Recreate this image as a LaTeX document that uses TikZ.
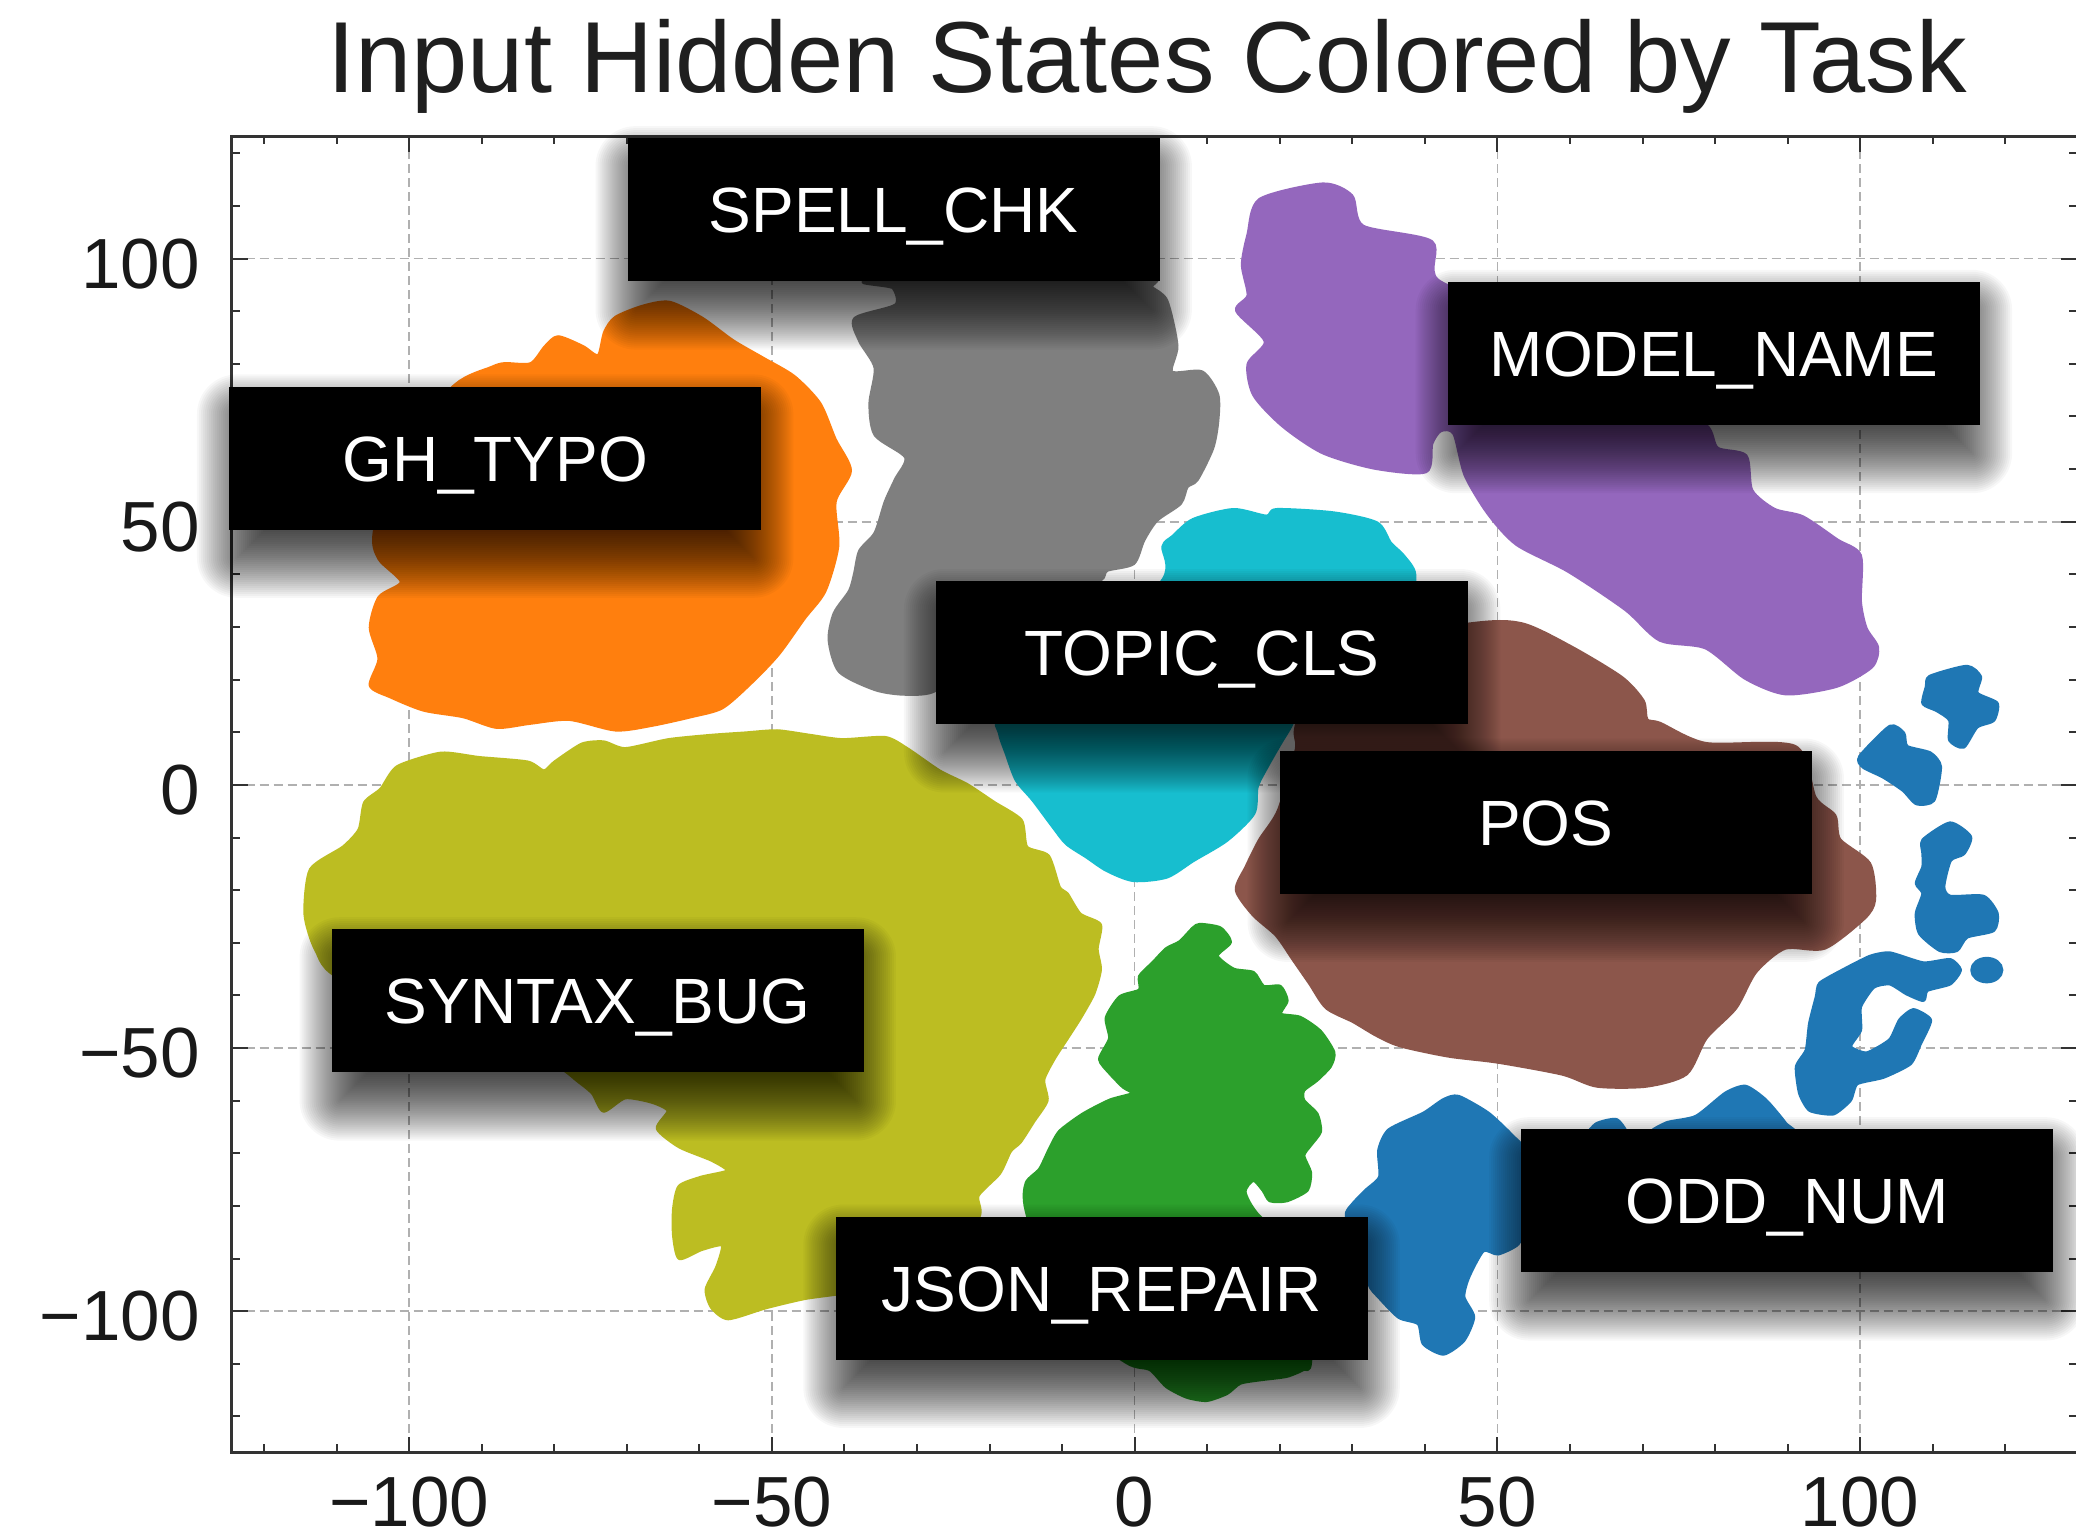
\documentclass[tikz,border=0pt]{standalone}
\usepackage{fontspec}
\setmainfont{Liberation Sans}
\pgfdeclarelayer{bgl}
\pgfdeclarelayer{shl}
\pgfsetlayers{bgl,shl,main}
\definecolor{cBlue}{HTML}{1F77B4}
\definecolor{cOrange}{HTML}{FF7F0E}
\definecolor{cGreen}{HTML}{2CA02C}
\definecolor{cPurple}{HTML}{9467BD}
\definecolor{cBrown}{HTML}{8C564B}
\definecolor{cGray}{HTML}{7F7F7F}
\definecolor{cOlive}{HTML}{BCBD22}
\definecolor{cCyan}{HTML}{17BECF}
\definecolor{axisc}{HTML}{333333}
\definecolor{gridc}{HTML}{B0B0B0}
\newcommand\boxshadow[1]{%
  \begin{pgfonlayer}{shl}
  \foreach \k in {1,...,40}{%
    \pgfmathsetmacro\e{-40+2*\k}%
    \pgfmathsetmacro\rc{max(\e,0.1)}%
    \pgfmathsetmacro\xa{8-\e}%
    \pgfmathsetmacro\ya{-28-\e}%
    \pgfmathsetmacro\xb{-8+\e}%
    \pgfmathsetmacro\yb{-28+\e}%
    \fill[black, opacity=0.03, rounded corners=\rc pt]
      ([xshift=\xa pt, yshift=\ya pt]#1.south west) rectangle
      ([xshift=\xb pt, yshift=\yb pt]#1.north east);
  }
  \end{pgfonlayer}}
\begin{document}
\begin{tikzpicture}[x=1.324pt,y=-1.324pt,
  gridline/.style={draw=gridc, line width=1.6pt, dash pattern=on 9pt off 5pt},
  frameline/.style={draw=axisc, line width=2.6pt},
  tickline/.style={draw=axisc, line width=2pt},
  blob/.style={line width=4pt, line join=round},
  ticklbl/.style={text=black!90, font=\fontsize{71}{80}\selectfont, inner sep=0pt},
  lbl/.style={fill=black, text=white, font=\fontsize{64}{70}\selectfont,
    minimum width=532pt, minimum height=143pt, inner sep=0pt,
    text height=46pt, text depth=0pt}]
\useasboundingbox (0,0) rectangle (1568,1163);
\begin{pgfonlayer}{bgl}
\fill[white] (0,0) rectangle (1568,1163);

% grid
\foreach \d in {-100,-50,0,50,100} {
  \pgfmathsetmacro\gx{857+5.48*\d}
  \pgfmathsetmacro\gy{592.8-3.975*\d}
  \draw[gridline] (\gx,103) -- (\gx,1097);
  \draw[gridline] (175,\gy) -- (1569,\gy);
}

% ---- clusters ----
% GH_TYPO (orange)
\filldraw[blob, fill=cOrange, draw=cOrange] plot[smooth cycle, tension=0.45] coordinates {
(283,402) (300,340) (344,291) (371,278) (381,275) (401,275) (412,262) (421.5,254.7)
(440,262) (452,269) (457,251) (465,240) (485.6,231.6) (505.8,228.7) (530.3,240.7)
(553.4,257.6) (576.5,271) (599.6,284.6) (618.9,304.8) (630.4,331.8) (642,355.4)
(630.4,379) (632.4,412.7) (622.7,446.4) (607.3,466.7) (588,493.6) (568.8,513.9)
(545.7,534.1) (522.6,540.8) (491.7,547.6) (464.8,551) (430,543) (400,546) (375,549)
(350,541) (320,536) (295,526) (280,517.7) (286.6,497.5) (280,474) (286.6,451.2)
(303.5,439.6) (286.6,422)};

% SPELL_CHK (gray)
\filldraw[blob, fill=cGray, draw=cGray] plot[smooth cycle, tension=0.45] coordinates {
(660,212) (674.7,217.1) (676.7,230.6) (645.9,240.7) (649.7,257.6) (661.3,277.8)
(657.4,304.8) (661.3,328.4) (684.4,345.3) (676.7,362.1) (669,379) (661.3,402.6)
(649.7,416.1) (645.9,432.9) (642,446.4) (630.4,463.3) (626.6,483.5) (634.3,507.1)
(661.3,520.6) (684.4,524) (707.5,520.6) (740,490) (800,450) (830.8,438) (835.9,430.5)
(856,425.4) (863.6,407.8) (873.6,392.7) (891.3,380.1) (896.3,367.5) (904,362.1)
(915.6,338.5) (919.4,318.3) (919.4,298) (907.8,281.2) (884.7,281.2) (888.6,261)
(880.9,227.2) (869.3,217.1) (860,208)};

% TOPIC_CLS (cyan)
\filldraw[blob, fill=cCyan, draw=cCyan] plot[smooth cycle, tension=0.45] coordinates {
(757,540) (755.3,553.9) (760.3,569) (767.9,589.1) (780.5,604.2) (795.6,624.4)
(805.7,637) (820.8,647) (835.9,657.1) (856,664.7) (881.2,662.1) (901.3,649.6)
(926.5,634.4) (946.7,614.3) (949.2,594.2) (956.7,579.1) (966.8,561.4) (974.4,548.8)
(990,520) (1060,460) (1068.2,434) (1059.5,419.6) (1049.9,410.3) (1039.8,395.2)
(1007.1,387.7) (964.3,385.2) (956.7,390.2) (931.6,385.2) (901.3,392.7) (886.2,405.3)
(878.7,412.9) (878.7,438) (820,500)};

% MODEL_NAME (purple)
\filldraw[blob, fill=cPurple, draw=cPurple] plot[smooth cycle, tension=0.45] coordinates {
(943,176.9) (951.6,150.9) (999.1,139.3) (1020.7,148) (1029.3,171.1) (1081.1,182.7)
(1085.4,211.6) (1150,240) (1250,300) (1288.3,321.4) (1296.9,338.7) (1318.5,344.5)
(1322.8,370.5) (1340,385) (1361.6,390.7) (1387.5,408.1) (1404.8,419.6) (1404.8,454.3)
(1409.1,474.6) (1417.8,489) (1413.4,503.5) (1387.5,517.9) (1348.7,523.7) (1318.5,512.1)
(1288.3,489) (1253.8,483.2) (1227.9,460.1) (1184.7,431.2) (1145.8,411) (1124.3,387.9)
(1107,359) (1098.4,327.2) (1088,325) (1081.1,335) (1076.8,356) (1038,353.2)
(999.1,341.6) (968.9,321.4) (947.3,298.3) (943,275.1) (956,257.8) (934.4,234.7)
(943,223.1) (938.7,200)};

% POS (brown)
\filldraw[blob, fill=cBrown, draw=cBrown] plot[smooth cycle, tension=0.45] coordinates {
(1000,490) (1112.7,471.3) (1150.2,471.7) (1187.5,489.4) (1224.9,512.1) (1240.8,529.5)
(1243.6,543.8) (1253.8,546.7) (1288.4,561.9) (1355.7,564.1) (1370.7,602.6)
(1385.6,616.2) (1389.3,634.3) (1411.8,652.4) (1415.5,679.6) (1408,693.2) (1378.1,715.8)
(1348.2,715.8) (1325.8,733.9) (1310.8,761.1) (1288.4,783.8) (1273.5,810.9)
(1243.6,820) (1206.2,820) (1180,810.9) (1131.4,801.9) (1094,797.3) (1057.5,789.5)
(1039.8,781.7) (1022.2,771.3) (1002,761) (989.5,742.7) (976.9,724.5) (964.3,706.3)
(946.7,690.7) (934.1,672.2) (941.6,654.6) (951.7,634.4) (966,612) (979.4,566)
(979.4,548)};

% SYNTAX_BUG (olive)
\filldraw[blob, fill=cOlive, draw=cOlive] plot[smooth cycle, tension=0.4] coordinates {
(288.0,596.1) (300.3,579.3) (333.0,569.2) (361.7,572.5) (398.5,575.9) (410.8,582.7)
(419.0,575.9) (439.5,562.4) (455.9,560.7) (472.2,565.8) (505.0,559.0) (537.7,555.7)
(562.3,554.0) (586.9,552.3) (611.4,555.7) (636.0,559.0) (668.7,557.4) (685.1,565.8)
(709.7,582.7) (730.2,592.8) (750.6,606.3) (771.1,619.7) (775.2,640.0) (791.6,646.7)
(799.8,670.3) (805.7,675.1) (815.7,690.7) (830.8,698.5) (828.3,716.7) (830.8,732.3)
(825.8,750.5) (815.7,768.7) (805.7,784.3) (795.6,800) (788,815.6) (790.5,831.2)
(780.5,846.8) (770.4,862.4) (762.9,869.3) (754.7,886.1) (738.4,903.0) (738.4,919.8)
(700,950) (640,975) (630.7,977.2) (607.3,980.5) (578.7,987.3) (550.0,995.7)
(537.7,987.3) (533.7,973.8) (541.8,956.9) (545.9,940.1) (529.6,943.5) (513.2,950.2)
(509.1,933.3) (509.1,913.1) (513.2,896.2) (529.6,889.5) (550.0,884.4) (537.7,876.0)
(513.2,865.9) (496.8,852.4) (505.0,838.9) (492.7,832.2) (472.2,828.8) (455.9,838.9)
(447.7,825.4) (435.4,815.3) (427.2,808.6) (400,790) (260,740) (238.9,717.5)
(230.7,690.6) (234.8,656.8) (259.4,640.0) (271.6,626.5) (275.7,606.3)};

% JSON_REPAIR (green)
\filldraw[blob, fill=cGreen, draw=cGreen] plot[smooth cycle, tension=0.4] coordinates {
(906.4,698.5) (921.5,701.1) (929,711.5) (919,721.9) (931.6,732.3) (946.7,734.9)
(954.2,745.3) (966.8,745.3) (971.8,755.7) (966.8,766.1) (981.9,768.7) (997,779.1)
(1007.1,794.8) (1004.6,805.2) (994.5,815.6) (984.4,823.4) (984.4,831.2) (994.5,841.6)
(997,854.6) (989.5,865) (984.4,872.8) (989.5,885.8) (987,898.8) (971.8,906.6)
(959.3,906.6) (954.2,898.8) (946.7,891) (940,900) (949.2,917) (990,960)
(989.5,1028.8) (984.4,1034) (971.8,1039.2) (951.7,1041.8) (936.6,1044.4)
(926.5,1052.2) (911.4,1057.4) (896.3,1054.9) (881.2,1047) (868.6,1034) (851,1028.8)
(800,990) (775.4,914.4) (775.4,893.6) (785.5,883.2) (793.1,867.6) (800.6,854.6)
(818.2,841.6) (838.4,831.2) (856,826) (848.5,820.8) (838.4,810.4) (830.8,800)
(838.4,784.3) (835.9,768.7) (846,753.1) (861,747.9) (861,737.5) (871.1,727.1)
(881.2,716.7) (891.3,711.5) (901.3,701.1)};

% ODD_NUM (blue)
\filldraw[blob, fill=cBlue, draw=cBlue] plot[smooth cycle, tension=0.4] coordinates {
(1090.3,830.9) (1101.5,828.4) (1123.9,841) (1142.6,858.6) (1150,870) (1150,925)
(1146.4,939.3) (1131.4,946.8) (1120.2,944.3) (1109,964.5) (1105.3,979.6)
(1112.7,994.7) (1105.3,1012.3) (1090.3,1022.4) (1075.4,1014.9) (1071.6,999.7)
(1056.7,994.7) (1041.7,979.6) (1034.2,969.5) (1030,940) (1017.2,918.3)
(1022.2,909.2) (1032.3,898.8) (1042.4,888.9) (1041.7,868.7) (1049.2,853.6)
(1075.4,841)};
\filldraw[blob, fill=cBlue, draw=cBlue] plot[smooth cycle, tension=0.4] coordinates {
(1200,858) (1206,849) (1221,846) (1228,858)};
\filldraw[blob, fill=cBlue, draw=cBlue] plot[smooth cycle, tension=0.4] coordinates {
(1250,858) (1258.5,848.5) (1281,843.5) (1303.4,825.9) (1318.3,820.8) (1333.3,830.9)
(1348.2,848.5) (1352,858)};
\filldraw[blob, fill=cBlue, draw=cBlue] plot[smooth cycle, tension=0.4] coordinates {
(1457.8,511.1) (1485.5,503.6) (1495.5,511.1) (1493,523.7) (1508.1,531.3) (1505.6,543.8)
(1493,548.9) (1483,564) (1472.9,559) (1472.9,543.8) (1462.8,536.3) (1452.7,531.3)
(1455.3,518.7)};
\filldraw[blob, fill=cBlue, draw=cBlue] plot[smooth cycle, tension=0.4] coordinates {
(1404.9,571.5) (1427.5,548.9) (1437.6,553.9) (1440.1,564) (1457.8,569) (1465.3,579.1)
(1460.3,604.3) (1447.7,606.8) (1437.6,596.7) (1422.5,586.6) (1407.4,579.1)};
\filldraw[blob, fill=cBlue, draw=cBlue] plot[smooth cycle, tension=0.4] coordinates {
(1452.7,634.5) (1472.9,621.9) (1488,632) (1483,644.6) (1472.9,649.6) (1467.8,669.7)
(1472.9,677.3) (1498.1,677.3) (1508.1,689.9) (1505.6,702.5) (1485.5,707.5)
(1477.9,717.6) (1465.3,717.6) (1450.2,705) (1447.7,689.9) (1452.7,674.8)
(1447.7,667.2) (1452.7,654.6) (1452.7,644.6)};
\filldraw[blob, fill=cBlue, draw=cBlue] (1500.6,732.7) ellipse [x radius=11, y radius=8.5];
\filldraw[blob, fill=cBlue, draw=cBlue] plot[smooth cycle, tension=0.35] coordinates {
(1392.3,732.7) (1412.5,722.6) (1427.5,720.1) (1452.7,727.6) (1472.9,725.1)
(1480.4,732.7) (1472.9,742.8) (1455.3,747.8) (1452.7,755.3) (1440.1,750.3)
(1427.5,742.8) (1415,745.3) (1404.9,760.4) (1404.9,778) (1397.3,790.6) (1409.9,795.6)
(1427.5,785.6) (1435.1,770.5) (1445.2,762.9) (1457.8,770.5) (1450.2,788.1)
(1442.7,803.2) (1422.5,813.3) (1402.4,818.3) (1397.3,830.9) (1384.7,841)
(1367.1,838.4) (1359.6,825.9) (1357.1,805.7) (1364.6,793.1) (1367.1,773)
(1372.2,752.8) (1374.7,742.8)};

% ---- axes frame and ticks ----
\foreach \d in {-120,-110,...,120} {
  \pgfmathsetmacro\tx{857+5.48*\d}
  \pgfmathsetmacro\ty{592.8-3.975*\d}
  \draw[tickline] (\tx,1097) -- (\tx,1091);
  \draw[tickline] (\tx,103) -- (\tx,109);
  \draw[tickline] (175,\ty) -- (181,\ty);
  \draw[tickline] (1569,\ty) -- (1563,\ty);
}
\foreach \d in {-100,-50,0,50,100} {
  \pgfmathsetmacro\tx{857+5.48*\d}
  \pgfmathsetmacro\ty{592.8-3.975*\d}
  \draw[tickline] (\tx,1097) -- (\tx,1085);
  \draw[tickline] (\tx,103) -- (\tx,115);
  \draw[tickline] (175,\ty) -- (187,\ty);
  \draw[tickline] (1569,\ty) -- (1557,\ty);
}
\draw[frameline] (175,103) rectangle (1569.5,1097);
\end{pgfonlayer}

% tick labels
\node[ticklbl, anchor=base] (xl1) at (309,1153) {−100};
\node[ticklbl, anchor=base] (xl2) at (583,1153) {−50};
\node[ticklbl, anchor=base] (xl3) at (857,1153) {0};
\node[ticklbl, anchor=base] (xl4) at (1131,1153) {50};
\node[ticklbl, anchor=base] (xl5) at (1405,1153) {100};
\node[ticklbl, anchor=base east] (yl1) at (151,217.8) {100};
\node[ticklbl, anchor=base east] (yl2) at (151,416.5) {50};
\node[ticklbl, anchor=base east] (yl3) at (151,615.3) {0};
\node[ticklbl, anchor=base east] (yl4) at (151,814) {−50};
\node[ticklbl, anchor=base east] (yl5) at (151,1012.8) {−100};

% title
\node[anchor=base, inner sep=0pt, text=black!88, font=\fontsize{101}{112}\selectfont] (title) at (866.5,70) {Input Hidden States Colored by Task};

% ---- label boxes ----
\node[lbl] (spell) at (675,158.5) {SPELL\_CHK};
\node[lbl] (model) at (1294.5,267) {MODEL\_NAME};
\node[lbl] (ghtypo) at (374,346) {GH\_TYPO};
\node[lbl] (topic) at (908,493) {TOPIC\_CLS};
\node[lbl] (pos) at (1167.5,621) {POS};
\node[lbl] (syntax) at (451.5,756) {SYNTAX\_BUG};
\node[lbl] (oddnum) at (1350,907) {ODD\_NUM};
\node[lbl] (json) at (832,973) {JSON\_REPAIR};
\boxshadow{spell}
\boxshadow{model}
\boxshadow{ghtypo}
\boxshadow{topic}
\boxshadow{pos}
\boxshadow{syntax}
\boxshadow{oddnum}
\boxshadow{json}
\end{tikzpicture}
\end{document}
